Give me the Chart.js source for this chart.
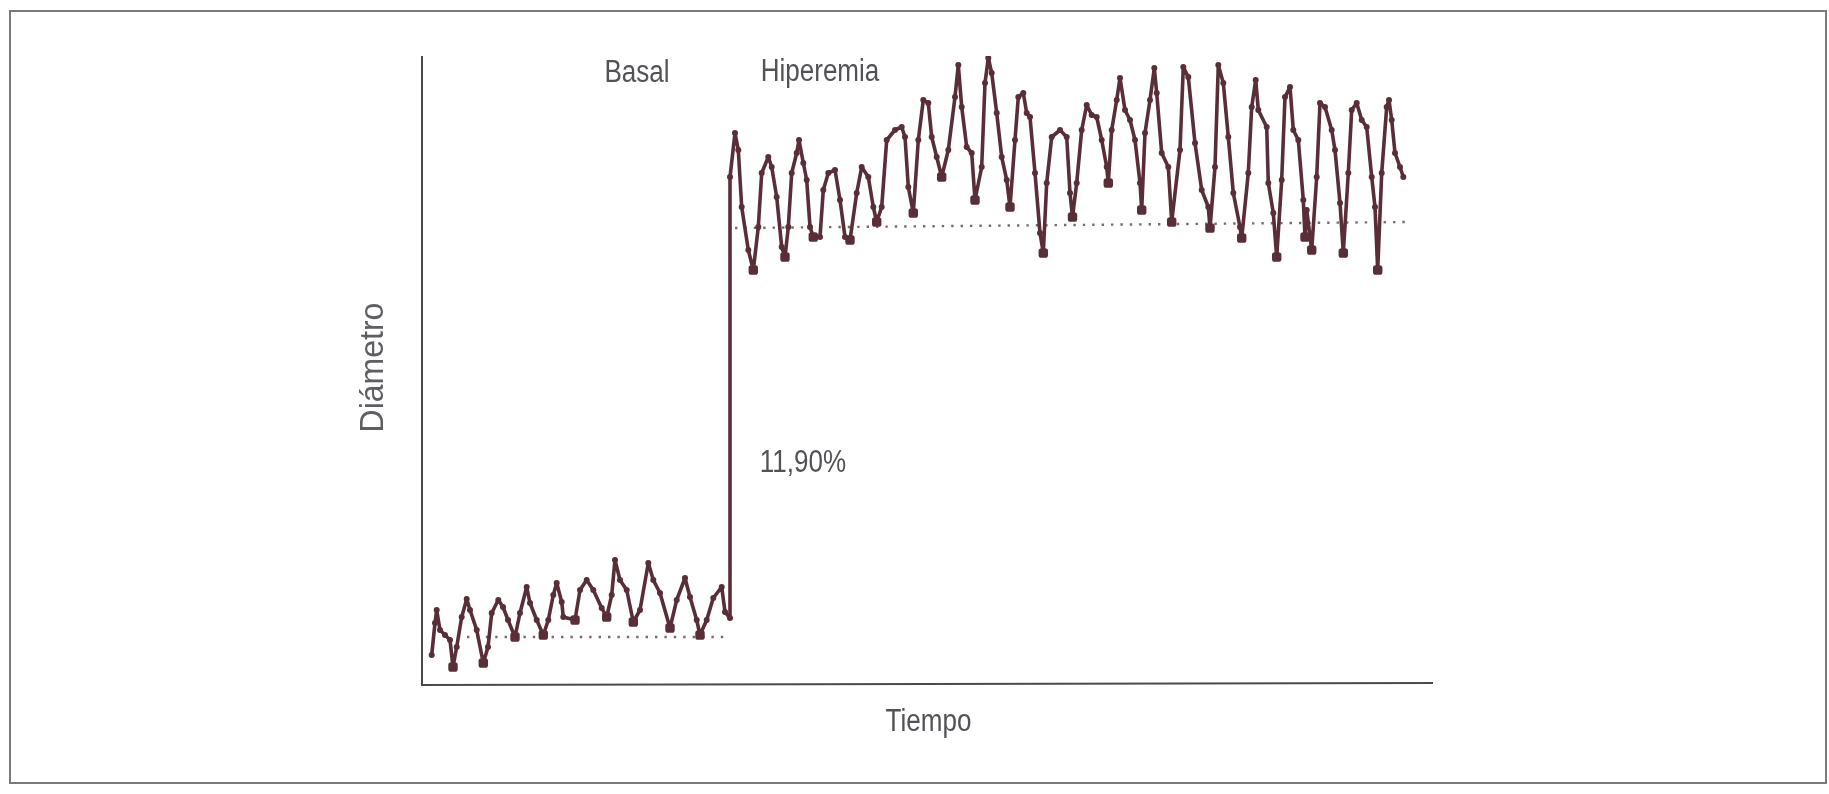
<!DOCTYPE html>
<html>
<head>
<meta charset="utf-8">
<script src="https://cdn.jsdelivr.net/npm/chart.js@4"></script>
<style>
  html, body { margin: 0; padding: 0; background: #fff; }
  #wrap { width: 1829px; height: 794px; position: relative; }
</style>
</head>
<body>
<div id="wrap"><canvas id="canvas" width="1829" height="794"></canvas></div>
<script>
const tiempo = [
  0.97, 1.3, 1.47, 1.8, 2.3, 2.8, 3.1, 3.47, 3.97, 4.47, 4.8, 5.47, 6.13, 6.6, 6.97, 7.63, 8.1, 8.6, 9.3, 9.8,
  10.47, 10.8, 11.47, 12.13, 12.63, 13.13, 13.47, 13.97, 14.13, 15.3, 15.8, 16.47, 17.13, 17.97, 18.47, 18.97,
  19.3, 19.8, 20.47, 21.13, 21.8, 22.63, 23.13, 23.8, 24.8, 25.47, 26.3, 26.8, 27.47, 27.8, 28.47, 29.13, 29.97,
  30.3, 30.8,
  30.8, 31.3, 31.63, 31.97, 32.63, 33.13, 33.63, 33.97, 34.63, 34.97, 35.47, 35.97, 36.3, 36.63, 36.97, 37.47,
  37.7, 38.13, 38.47, 38.8, 39.13, 39.8, 40.13, 40.63, 41.3, 41.8, 42.3, 42.8, 43.47, 43.97, 44.63, 45.13, 45.47,
  45.97, 46.47, 47.3, 47.97, 48.3, 48.63, 49.13, 49.63, 50.13, 50.63, 50.97, 51.47, 51.97, 52.63, 53.3, 53.63,
  53.97, 54.47, 54.97, 55.3, 55.97, 56.3, 56.63, 56.97, 57.47, 57.97, 58.47, 58.8, 59.3, 59.63, 60.13, 60.47,
  60.8, 61.3, 61.8, 62.13, 62.47, 62.97, 63.8, 64.47, 64.8, 65.05, 65.47, 65.97, 66.47, 66.97, 67.47, 67.97,
  68.47, 68.63, 68.97, 69.47, 69.8, 70.3, 70.8, 71.3, 71.8, 71.97, 72.3, 72.8, 73.23, 73.47, 73.97, 74.63, 74.97,
  75.8, 76.13, 76.63, 77.3, 77.97, 78.63, 78.8, 79.3, 79.63, 80.13, 80.63, 81.13, 81.8, 81.97, 82.63, 82.97,
  83.37, 83.63, 84.47, 84.63, 85.13, 85.47, 85.97, 86.3, 86.8, 87.13, 87.63, 88.13, 88.3, 88.47, 88.97, 89.47,
  89.8, 90.3, 90.97, 91.3, 91.8, 92.13, 92.63, 92.97, 93.47, 93.97, 94.47, 94.97, 95.3, 95.57, 95.97, 96.47,
  96.7, 96.97, 97.3, 97.8, 98.13
];
const diametro = [
  2.8, 6.0, 7.3, 5.3, 4.8, 4.3, 1.6, 3.6, 6.6, 8.4, 7.3, 5.3, 2.0, 3.6, 7.0, 8.3, 7.6, 6.3, 4.6, 7.0,
  9.6, 8.0, 6.3, 4.8, 6.3, 8.8, 10.0, 8.1, 6.6, 6.3, 9.3, 10.3, 9.3, 7.5, 6.6, 8.8,
  12.3, 10.3, 9.3, 6.1, 7.3, 12.0, 10.3, 9.0, 5.5, 8.3, 10.5, 8.6, 6.3, 4.8, 6.3, 8.5, 9.6,
  7.1, 6.5,
  50.6, 55.0, 53.3, 47.6, 43.3, 41.3, 45.6, 51.0, 52.6, 51.6, 48.6, 43.6, 42.6, 45.6, 51.0, 53.0,
  54.3, 52.0, 50.3, 45.6, 44.6, 44.6, 49.3, 51.0, 51.3, 48.3, 44.6, 44.3, 49.0, 51.6, 50.6, 47.6, 46.1,
  47.6, 54.3, 55.3, 55.6, 54.6, 49.6, 47.0, 54.3, 58.3, 58.0, 54.6, 52.6, 50.6, 53.3, 58.6, 61.8,
  57.6, 53.6, 53.0, 48.3, 51.6, 60.0, 62.5, 61.0, 57.0, 52.6, 50.3, 47.6, 54.3, 58.6, 59.0, 57.0,
  56.6, 51.0, 45.0, 43.0, 50.0, 54.6, 55.3, 54.6, 49.0, 46.6, 50.0, 55.3, 57.8, 56.8, 56.6, 54.3,
  51.6, 50.0, 55.3, 58.3, 60.5, 57.3, 56.3, 54.3, 50.0, 47.3, 55.0, 58.3, 61.5, 59.0, 53.0, 51.6, 46.1,
  53.3, 61.6, 60.6, 54.0, 49.3, 47.6, 45.5, 51.6, 61.8, 60.0, 54.6, 49.0, 45.6, 44.5, 51.0, 57.6,
  60.3, 57.3, 55.6, 50.0, 47.0, 42.6, 50.3, 58.6, 59.6, 55.3, 54.3, 48.3, 44.6, 47.3, 43.3, 50.6,
  58.0, 57.6, 55.3, 53.3, 48.0, 43.0, 51.0, 57.3, 58.0, 56.3, 55.6, 50.6, 47.6, 41.3, 51.0, 57.6,
  58.3, 56.3, 53.0, 51.6, 50.6
];

// líneas de referencia punteadas (basal e hiperemia)
const basalT = [4.5, 30.7];
const basalD = [4.6, 4.6];
const hiperT = [31.3, 98.3];
const hiperD = [45.5, 46.1];

const color = '#5a2e38';
const texto = '#525258';
const fuente = '"Liberation Sans", Arial, sans-serif';

const puntos = (xs, ys) => xs.map((x, i) => ({ x: x, y: ys[i] }));

const esMinimo = (i) => {
  const v = diametro[i];
  return i > 0 && i < diametro.length - 1 && v < diametro[i - 1] && v <= diametro[i + 1] &&
    diametro[i + 1] - v < 20;
};

// texto estrecho (la figura usa una fuente condensada)
const estrecho = (ctx, txt, x, y, k) => {
  ctx.save();
  ctx.translate(x, y);
  ctx.scale(k || 0.84, 1);
  ctx.fillText(txt, 0, 0);
  ctx.restore();
};

const marco = {
  id: 'marco',
  beforeDraw(chart) {
    const ctx = chart.ctx;
    ctx.save();
    ctx.fillStyle = '#fff';
    ctx.fillRect(0, 0, chart.width, chart.height);
    ctx.strokeStyle = '#7a7a7a';
    ctx.lineWidth = 2;
    ctx.strokeRect(10, 11, 1816, 772);
    ctx.restore();
  },
  afterDraw(chart) {
    const ctx = chart.ctx;
    const a = chart.chartArea;
    const x = chart.scales.x;
    const y = chart.scales.y;
    ctx.save();
    // ejes
    ctx.strokeStyle = '#4a4a4a';
    ctx.lineWidth = 2;
    ctx.beginPath();
    ctx.moveTo(a.left, a.top);
    ctx.lineTo(a.left, a.bottom + 2);
    ctx.lineTo(a.right, a.bottom);
    ctx.stroke();

    ctx.fillStyle = texto;
    ctx.textAlign = 'center';
    ctx.textBaseline = 'middle';
    ctx.font = '31px ' + fuente;
    estrecho(ctx, 'Basal', x.getPixelForValue(21.5), y.getPixelForValue(61.0));
    estrecho(ctx, 'Hiperemia', x.getPixelForValue(39.8), y.getPixelForValue(61.1));
    estrecho(ctx, '11,90%', x.getPixelForValue(38.1), y.getPixelForValue(22.0));
    estrecho(ctx, 'Tiempo', (a.left + a.right) / 2 + 1, a.bottom + 39);

    ctx.translate(a.left - 48, (a.top + a.bottom) / 2 - 2);
    ctx.rotate(-Math.PI / 2);
    ctx.font = '33px ' + fuente;
    ctx.fillStyle = '#5e5e64';
    estrecho(ctx, 'Diámetro', 0, 0, 0.97);
    ctx.restore();
  }
};

new Chart(document.getElementById('canvas'), {
  type: 'line',
  data: {
    datasets: [
      {
        label: 'Diámetro',
        data: puntos(tiempo, diametro),
        borderColor: color,
        backgroundColor: color,
        borderWidth: 3.6,
        tension: 0,
        borderJoinStyle: 'round',
        borderCapStyle: 'round',
        pointRadius: (ctx) => esMinimo(ctx.dataIndex) ? 5.5 : 3,
        pointStyle: (ctx) => esMinimo(ctx.dataIndex) ? 'rectRounded' : 'circle',
        pointBorderWidth: 0,
        order: 0
      },
      {
        label: 'Basal',
        data: puntos(basalT, basalD),
        borderColor: '#7a6a70',
        borderWidth: 2.4,
        borderDash: [2.4, 7],
        pointRadius: 0,
        order: 1
      },
      {
        label: 'Hiperemia',
        data: puntos(hiperT, hiperD),
        borderColor: '#7a6a70',
        borderWidth: 2.4,
        borderDash: [2.4, 7],
        pointRadius: 0,
        order: 1
      }
    ]
  },
  options: {
    responsive: false,
    animation: false,
    devicePixelRatio: 1,
    layout: { padding: { left: 422, top: 56, right: 396, bottom: 111 } },
    plugins: {
      legend: { display: false },
      tooltip: { enabled: false }
    },
    scales: {
      x: { type: 'linear', display: false, min: 0, max: 101.1 },
      y: { type: 'linear', display: false, min: 0, max: 62.7 }
    }
  },
  plugins: [marco]
});
</script>
</body>
</html>
